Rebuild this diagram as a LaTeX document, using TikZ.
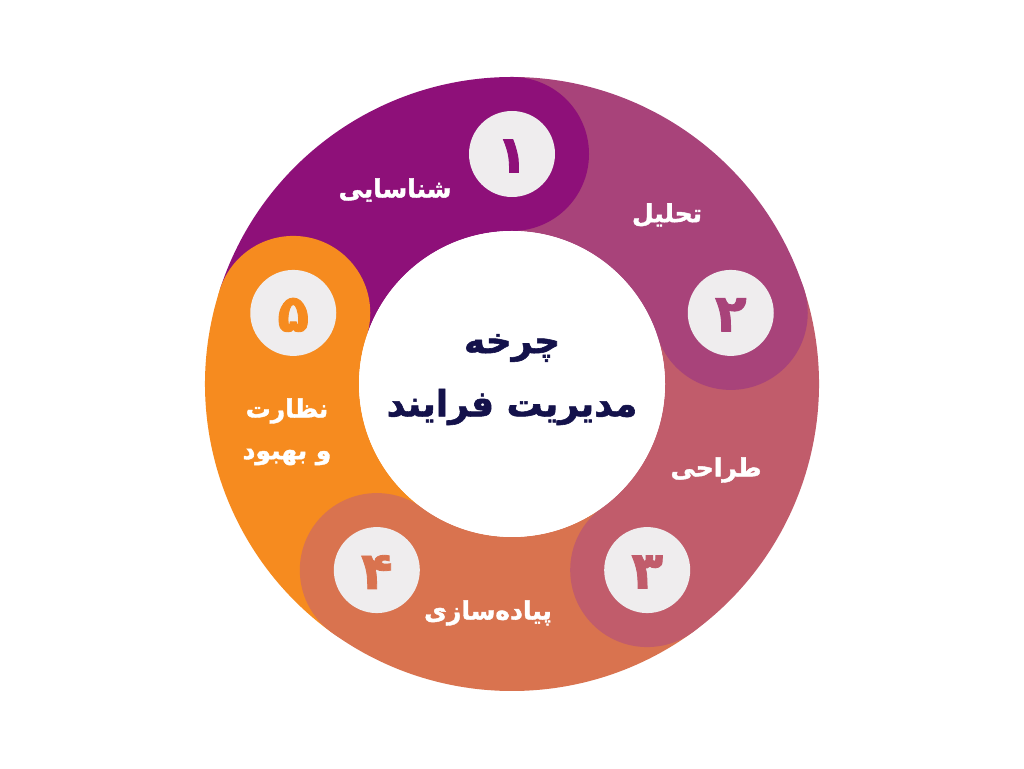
\documentclass[tikz,border=0pt]{standalone}
\usepackage{fontspec}
\usetikzlibrary{calc}
\TeXXeTstate=1
\newfontfamily\fa[Script=Arabic,FakeBold=1.6]{DejaVu Sans Bold}
\definecolor{cA}{HTML}{8E1079}
\definecolor{cB}{HTML}{A8437A}
\definecolor{cC}{HTML}{C15C6B}
\definecolor{cD}{HTML}{D9734F}
\definecolor{cE}{HTML}{F68B1F}
\definecolor{numbg}{HTML}{EFEDEE}
\definecolor{navy}{HTML}{14124B}
\begin{document}
\begin{tikzpicture}[x=1pt,y=1pt,
  lbl/.style={text=white,font=\fa\fontsize{25}{30}\selectfont,align=center},
  numtxt/.style={font=\fa\fontsize{52}{52}\selectfont},
  numcirc/.style={circle,fill=numbg,minimum size=86pt,inner sep=0pt},
  ttl/.style={text=navy,font=\fa\fontsize{36}{42}\selectfont}]
\useasboundingbox (0,0) rectangle (1024,768);
\fill[white] (0,0) rectangle (1024,768);
\coordinate (O) at (512,384);
% sectors
\foreach \a/\b/\c in {162/90/cA, 90/18/cB, 18/-54/cC, -54/-126/cD, -126/-198/cE}{
  \fill[\c] ($(O)+(\a:307pt)$) arc[start angle=\a, end angle=\b, radius=307pt]
    -- ($(O)+(\b:153pt)$) arc[start angle=\b, end angle=\a, radius=153pt] -- cycle;
}
% caps
\foreach \b/\c in {90/cA, 18/cB, -54/cC, -126/cD, 162/cE}{
  \fill[\c] ($(O)+(\b:230pt)$) circle[radius=77pt];
}
\fill[white] (O) circle[radius=153pt];
% number circles
\node[numcirc] (n1) at ($(O)+(90:230pt)$) {};
\node[numcirc] (n2) at ($(O)+(18:230pt)$) {};
\node[numcirc] (n3) at ($(O)+(-54:230pt)$) {};
\node[numcirc] (n4) at ($(O)+(-126:230pt)$) {};
\node[numcirc] (n5) at ($(O)+(162:230pt)$) {};
\node[numtxt,text=cA] (d1) at ($(n1)+(0,-2)$) {\beginR ۱\endR};
\node[numtxt,text=cB] (d2) at ($(n2)+(0,-2)$) {\beginR ۲\endR};
\node[numtxt,text=cC] (d3) at ($(n3)+(0,-2)$) {\beginR ۳\endR};
\node[numtxt,text=cD] (d4) at ($(n4)+(0,-2)$) {\beginR ۴\endR};
\node[numtxt,text=cE] (d5) at ($(n5)+(0,-2)$) {\beginR ۵\endR};
% labels
\node[lbl] (l1) at (395,578) {\beginR شناسایی\endR};
\node[lbl] (l2) at (667,553) {\beginR تحلیل\endR};
\node[lbl] (l3) at (716,298) {\beginR طراحی\endR};
\node[lbl] (l4) at (488,155) {\beginR پیاده‌سازی\endR};
\node[lbl] (l5a) at (287,357) {\beginR نظارت\endR};
\node[lbl] (l5b) at (287,311) {\beginR و بهبود\endR};
% center
\node[ttl] (t1) at (512,420) {\beginR چرخه\endR};
\node[ttl] (t2) at (512,361) {\beginR مدیریت فرایند\endR};
\end{tikzpicture}
\end{document}
